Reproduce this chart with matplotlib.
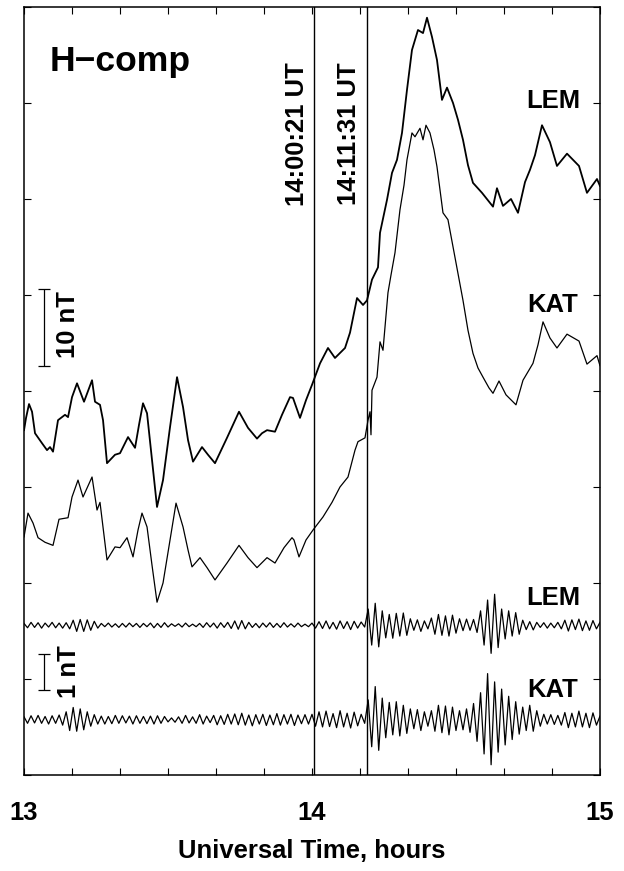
import matplotlib
matplotlib.use("Agg")
import matplotlib.pyplot as plt
import numpy as np
from matplotlib.ticker import MultipleLocator
from matplotlib import font_manager as fm

# condensed bold look if a narrow face exists, else plain Liberation Sans
_names = {f.name for f in fm.fontManager.ttflist}
if 'Liberation Sans Narrow' in _names:
    fam, k = 'Liberation Sans Narrow', 1.0
else:
    fam, k = 'Liberation Sans', 0.88
plt.rcParams['font.family'] = [fam, 'DejaVu Sans']
plt.rcParams['font.weight'] = 'bold'

# H-component, minutes after 13:00 UT and field in nT (plot units)
lem_min = [0.0, 0.42, 1.04, 1.67, 2.29, 3.75, 4.79, 5.42, 6.04, 7.08, 8.54, 9.17, 10.0, 11.04,
           12.5, 14.17, 14.79, 15.83, 16.46, 17.29, 18.96, 20.0, 21.67, 23.13, 23.96, 24.79,
           25.63, 26.67, 27.71, 28.96, 30.42, 31.88, 33.13, 34.17, 35.21, 37.08, 38.33, 39.79,
           42.29, 44.79, 46.67, 48.54, 49.58, 50.63, 52.29, 53.75, 55.42, 56.04, 57.5, 58.75,
           60.0, 61.67, 63.33, 64.79, 66.88, 67.92, 69.38, 70.63, 71.46, 72.5, 73.75, 74.17,
           75.63, 76.67, 77.71, 78.75, 79.79, 80.83, 82.08, 83.13, 83.96, 85.0, 86.04, 87.08,
           88.13, 89.38, 90.42, 91.46, 92.5, 93.54, 95.42, 97.71, 98.54, 99.79, 101.46, 102.92,
           104.38, 105.42, 106.46, 107.92, 109.58, 111.04, 113.13, 114.38, 115.63, 117.29,
           119.38, 120.0]
lem_h = [44.9, 46.5, 48.3, 47.3, 44.5, 43.2, 42.3, 42.7, 42.1, 46.2, 46.9, 46.6, 49.2, 51.0,
         48.6, 51.4, 48.6, 48.2, 46.2, 40.6, 41.7, 41.9, 44.0, 42.6, 45.6, 48.4,
         47.1, 41.0, 34.9, 38.4, 45.3, 51.8, 47.9, 43.6, 40.8, 42.7, 41.7, 40.6,
         43.9, 47.3, 45.2, 43.8, 44.5, 44.9, 44.7, 46.9, 49.2, 49.1, 46.5, 48.8,
         50.8, 53.6, 55.6, 54.3, 55.6, 57.6, 62.1, 61.2, 61.8, 64.5, 66.1, 70.6,
         74.9, 78.4, 80.1, 83.6, 89.2, 94.4, 97.0, 96.6, 98.6, 96.1, 93.1, 87.9,
         89.5, 87.5, 85.3, 82.7, 79.4, 77.1, 75.8, 74.0, 76.4, 74.1, 75.0, 73.2,
         77.2, 78.8, 80.7, 84.6, 82.4, 79.3, 80.9, 80.1, 79.3, 75.8,
         77.6, 76.7]

kat_min = [0.0, 0.83, 1.88, 2.92, 4.38, 6.04, 7.29, 9.17, 10.0, 11.25, 12.29, 14.17, 15.21,
           15.83, 17.29, 18.96, 20.0, 21.46, 22.71, 23.75, 24.58, 25.63, 26.67, 27.71, 28.96,
           30.42, 31.67, 33.13, 34.17, 35.0, 36.67, 38.13, 39.79, 42.29, 44.79, 46.67, 48.54,
           50.63, 52.29, 54.17, 55.83, 56.25, 57.29, 58.75, 60.21, 62.29, 64.17, 65.83, 67.5,
           68.96, 69.58, 71.04, 71.67, 72.08, 72.29, 72.5, 73.54, 74.17, 74.79, 75.83, 76.46,
           77.29, 78.33, 79.17, 79.79, 80.83, 81.46, 82.5, 83.13, 83.75, 84.58, 85.42, 86.04,
           87.29, 88.33, 89.79, 91.46, 92.5, 93.54, 94.58, 95.63, 96.88, 97.71, 98.96, 100.42,
           102.5, 103.96, 106.04, 107.08, 108.13, 109.58, 111.04, 113.13, 115.63, 117.29,
           119.38, 120.0]
kat_h = [31.0, 34.1, 32.8, 30.9, 30.3, 29.9, 33.3, 33.5, 36.2, 38.4, 36.2, 38.8, 34.5,
         35.5, 28.0, 29.7, 29.6, 30.9, 28.4, 31.9, 34.1, 32.3, 27.3, 22.5, 25.0,
         30.6, 35.4, 32.3, 29.3, 27.1, 28.3, 27.0, 25.4, 27.6, 29.9, 28.3, 27.0,
         28.3, 27.6, 29.6, 30.9, 30.6, 28.4, 30.6, 31.9, 33.6, 35.5, 37.5, 38.8,
         42.3, 43.4, 43.9, 46.2, 47.3, 44.3, 50.1, 51.8, 56.4, 55.3, 62.8, 65.1,
         68.0, 73.6, 76.8, 80.1, 83.6, 83.1, 84.2, 82.7, 84.6, 83.6, 81.4, 79.2,
         73.2, 72.3, 67.4, 61.8, 57.9, 54.9, 53.0, 51.8, 50.4, 49.7, 51.3, 49.5,
         48.2, 51.4, 53.6, 56.0, 59.0, 56.9, 55.6, 57.4, 56.5, 53.5,
         54.6, 53.3]

# band-pass filtered H (nT), even sampling over 13-15 UT
lem_filt = [0.05, -0.07, 0.08, -0.06, 0.07, -0.08, 0.06, -0.05, 0.08, -0.07, 0.06, -0.08, 0.07,
            -0.10, 0.14, -0.17, 0.16, -0.17, 0.15, -0.14, 0.11, -0.08,
            0.05, -0.04, 0.06, -0.05, 0.04, -0.06, 0.05, -0.05, 0.06, -0.04, 0.05, -0.06, 0.05, -0.04,
            0.06, -0.07, 0.05, -0.06, 0.07, -0.05, 0.04, -0.03, 0.04, -0.05, 0.06, -0.04, 0.03, -0.04,
            0.05, -0.06, 0.07, -0.05, 0.06, -0.08, 0.07, -0.06, 0.08,
            -0.09, 0.12, -0.11, 0.13, -0.10, 0.08,
            -0.06, 0.05, -0.07, 0.06, -0.05, 0.07, -0.06, 0.05, -0.06, 0.07, -0.05, 0.04, -0.05,
            0.06, -0.04, 0.03, -0.04,
            0.06, -0.08, 0.10, -0.09, 0.12, -0.10, 0.08, -0.11, 0.12, -0.09, 0.10, -0.12, 0.11,
            -0.08, 0.09, -0.05,
            0.45, -0.55, 0.61, -0.60, 0.40,
            -0.35, 0.30, -0.36, 0.33, -0.30, 0.34, -0.28,
            0.18, -0.14, 0.15, -0.17, 0.12, -0.10,
            0.20, -0.25, 0.30, -0.28, 0.26, -0.30, 0.28, -0.22, 0.18,
            -0.15, 0.17, -0.14, 0.16, -0.20,
            0.40, -0.55, 0.70, -0.78, 0.86, -0.62,
            0.45, -0.38, 0.40, -0.30, 0.35, -0.25,
            0.14, -0.12, 0.10, -0.13, 0.08, -0.06, 0.07, -0.08, 0.06, -0.07, 0.08,
            -0.10, 0.14, -0.16, 0.15, -0.12, 0.17, -0.15, 0.12, -0.14, 0.13, -0.10, 0.08]
kat_filt = [0.08, -0.10, 0.11, -0.09, 0.12, -0.10, 0.09, -0.12, 0.11, -0.10, 0.13,
            -0.15, 0.22, -0.30, 0.34, -0.32, 0.30, -0.28, 0.22, -0.18, 0.14, -0.12,
            0.10, -0.12, 0.09, -0.11, 0.12, -0.10, 0.11, -0.09, 0.10, -0.12, 0.11, -0.10, 0.09, -0.11,
            0.10, -0.12, 0.11, -0.10, 0.09, -0.06, 0.05, -0.07, 0.08, -0.10, 0.12, -0.09, 0.08,
            -0.10, 0.14, -0.12, 0.10, -0.08, 0.12, -0.14, 0.11, -0.13, 0.15,
            -0.12, 0.16, -0.14, 0.18, -0.15, 0.13, -0.17, 0.14, -0.12, 0.15, -0.16, 0.13, -0.14,
            0.17, -0.15, 0.14, -0.12, 0.15, -0.16, 0.13, -0.11, 0.14, -0.12,
            0.15, -0.18, 0.22, -0.20, 0.24, -0.19, 0.17, -0.22, 0.25, -0.20, 0.18, -0.23, 0.21,
            -0.17, 0.15, -0.10,
            0.55, -0.75, 0.92, -0.85, 0.60,
            -0.50, 0.48, -0.42, 0.50, -0.45, 0.40, -0.38,
            0.30, -0.25, 0.28, -0.30, 0.22, -0.18,
            0.25, -0.32, 0.40, -0.36, 0.38, -0.42, 0.35, -0.30, 0.25,
            -0.28, 0.30, -0.35, 0.45, -0.60,
            0.75, -0.95, 1.28, -1.25, 1.05, -0.90,
            0.85, -0.70, 0.65, -0.55, 0.50, -0.40,
            0.35, -0.30, 0.40, -0.32, 0.25, -0.18, 0.15, -0.12, 0.14, -0.13, 0.12,
            -0.15, 0.20, -0.22, 0.18, -0.20, 0.24, -0.20, 0.18, -0.22, 0.19, -0.15, 0.10]

events = [14 + 0/60 + 21/3600, 14 + 11/60 + 31/3600]
event_labels = ['14:00:21 UT', '14:11:31 UT']

# offsets / gain for the filtered traces
lem_base, kat_base, gain = 19.5, 7.2, 4.69
fs = 21 * k

fig = plt.figure(figsize=(6.24, 8.71), dpi=100)
ax = fig.add_axes([0.0385, 0.1102, 0.923, 0.8818])

ax.plot(13 + np.array(lem_min) / 60, lem_h, color='black', lw=1.3)
ax.plot(13 + np.array(kat_min) / 60, kat_h, color='black', lw=0.9)

t_f = np.linspace(13, 15, len(lem_filt))
ax.plot(t_f, lem_base + gain * np.array(lem_filt), color='black', lw=0.9)
t_f2 = np.linspace(13, 15, len(kat_filt))
ax.plot(t_f2, kat_base + gain * np.array(kat_filt), color='black', lw=0.9)

for t in events:
    ax.axvline(t, color='black', lw=1.0)
ax.text(13.948, 83.5, event_labels[0], rotation=90, ha='center', va='center', fontsize=fs, fontweight='bold')
ax.text(14.128, 83.5, event_labels[1], rotation=90, ha='center', va='center', fontsize=fs, fontweight='bold')

# scale bars
ax.errorbar([13.069], [58.3], yerr=[5.0], fmt='none', ecolor='black', elinewidth=0.9, capsize=4, capthick=0.9)
ax.errorbar([13.069], [13.4], yerr=[0.5 * gain], fmt='none', ecolor='black', elinewidth=0.9, capsize=4, capthick=0.9)
ax.text(13.153, 58.7, '10 nT', rotation=90, ha='center', va='center', fontsize=fs, fontweight='bold')
ax.text(13.156, 13.4, '1 nT', rotation=90, ha='center', va='center', fontsize=fs, fontweight='bold')

ax.text(13.09, 91.67, 'H\u2212comp', ha='left', va='baseline', fontsize=29 * k, fontweight='bold')
for lab, yb in [('LEM', 86.85), ('KAT', 60.3), ('LEM', 22.1), ('KAT', 10.2)]:
    ax.text(14.837, yb, lab, ha='center', va='baseline', fontsize=fs, fontweight='bold')

ax.set_xlim(13, 15)
ax.set_ylim(0, 100)
ax.xaxis.set_minor_locator(MultipleLocator(1 / 6))
ax.yaxis.set_major_locator(MultipleLocator(12.5))
ax.set_xticks([13, 14, 15])
ax.set_xticklabels(['13', '14', '15'], fontsize=fs, fontweight='bold')
ax.tick_params(which='both', direction='in', top=True, right=True, length=5, width=0.8)
ax.tick_params(axis='x', pad=19)
ax.tick_params(axis='y', labelleft=False)
for s in ax.spines.values():
    s.set_linewidth(1.1)
ax.set_xlabel('Universal Time, hours', fontsize=fs, fontweight='bold', labelpad=10)

fig.savefig('out.png', dpi=100)
